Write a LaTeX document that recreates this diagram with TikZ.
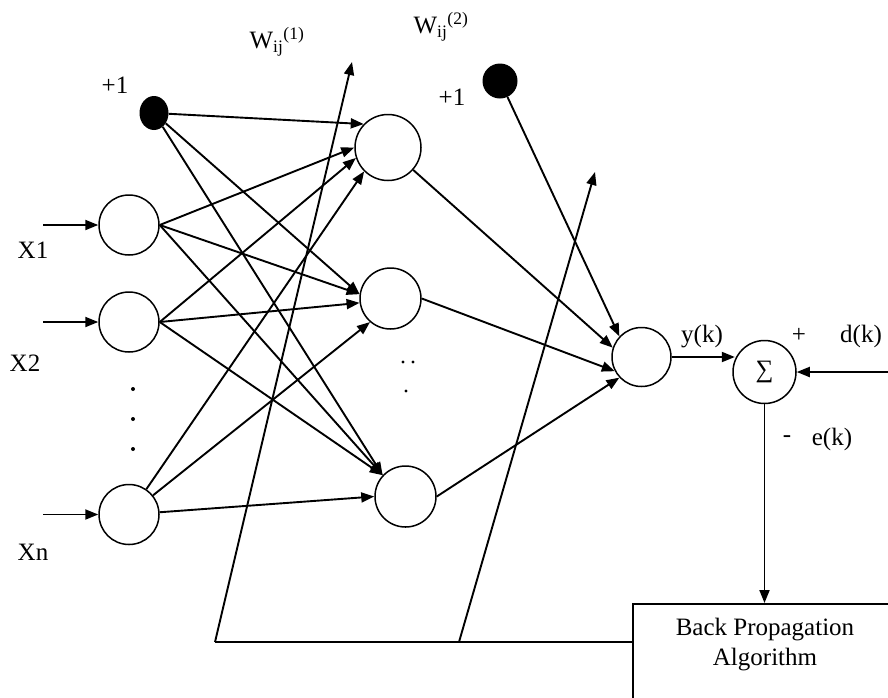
\documentclass[tikz,border=0pt]{standalone}
\usepackage{fontspec}
\setmainfont{Liberation Serif}
\usetikzlibrary{arrows.meta,shapes.geometric}
\begin{document}
\begin{tikzpicture}[x=1pt,y=-1pt,
  neuron/.style={circle,draw,line width=1.5pt,inner sep=0pt,minimum size=#1},
  biasdot/.style={circle,fill=black,inner sep=0pt,minimum size=#1},
  conn/.style={line width=1.9pt,-{Triangle[length=13pt,width=10pt]}},
  plainline/.style={line width=1.9pt},
  lbl/.style={font=\fontsize{25}{30}\selectfont,inner sep=0pt}]
\useasboundingbox (0,0) rectangle (888,697);
\clip (0,0) rectangle (888,697);
% input layer
\node[neuron=60pt] (I1) at (129,225) {};
\node[neuron=60pt] (I2) at (129,322) {};
\node[neuron=60pt] (In) at (129,514.5) {};
\node[ellipse,fill=black,inner sep=0pt,minimum width=29pt,minimum height=34pt] (B1) at (154,113) {};
% hidden layer
\node[neuron=66pt] (H1) at (388,147.5) {};
\node[neuron=61pt] (H2) at (390.5,298.5) {};
\node[neuron=61pt] (H3) at (405.5,496.5) {};
\node[biasdot=35pt] (B2) at (500,81) {};
% output
\node[neuron=59pt] (O) at (641.5,357) {};
\node[neuron=63pt,font=\fontsize{25}{30}\selectfont] (S) at (764.5,372) {∑};
% back propagation box
\node[draw,line width=1.5pt,anchor=north west,minimum width=300pt,minimum height=120pt] (BP) at (632,603) {};
\node[lbl,align=center] (BPT) at (765,645) {Back Propagation\\Algorithm};
% input arrows
\coordinate (x1s) at (43,225);
\coordinate (x2s) at (43,322);
\coordinate (xns) at (43,514.5);
\draw[conn] (x1s) -- (I1);
\draw[conn] (x2s) -- (I2);
\draw[conn] (xns) -- (In);
% input -> hidden
\draw[conn] (B1) -- (H1.136);
\draw[conn] (B1) -- (H2.172);
\draw[conn] (B1) -- (H3.137);
\draw[conn] (I1.east) -- (H1.180);
\draw[conn] (I1.east) -- (H2.172);
\draw[conn] (I1.east) -- (H3.137);
\draw[conn] (I2.east) -- (H1.198);
\draw[conn] (I2.east) -- (H2.188);
\draw[conn] (I2.east) -- (H3.137);
\draw[conn] (In) -- (H1.225);
\draw[conn] (In) -- (H2.229);
\draw[conn] (In) -- (H3.180);
% hidden -> output
\draw[conn] (H1) -- (O.162);
\draw[conn] (H2.east) -- (O.208);
\draw[conn] (H3.east) -- (O.223);
\draw[conn] (B2) -- (O.137);
% output -> sum
\draw[conn] (O.east) -- (O.east -| S.157);
\coordinate (dk) at (888,372);
\draw[conn] (dk) -- (S);
\draw[conn] (S) -- (S |- BP.north);
% feedback lines
\coordinate (f1) at (215,642);
\coordinate (t1) at (352,62);
\coordinate (f2) at (459,642);
\coordinate (t2) at (595,172);
\draw[plainline] (f1) -- (f1 -| BP.west);
\draw[conn] (f1) -- (t1);
\draw[conn] (f2) -- (t2);
% dots
\fill (133,389) circle (2pt);
\fill (133,419) circle (2pt);
\fill (133,449) circle (2pt);
\fill (403,362) circle (1.7pt);
\fill (413,362) circle (1.7pt);
\fill (406,391) circle (1.7pt);
% labels
\node[lbl] (lx1) at (33,250) {X1};
\node[lbl] (lx2) at (25,363) {X2};
\node[lbl] (lxn) at (33,552) {Xn};
\node[lbl] (lb1) at (115,85) {+1};
\node[lbl] (lb2) at (452,97) {+1};
\node[lbl] (lw1) at (277,42) {W\textsubscript{ij}\textsuperscript{(1)}};
\node[lbl] (lw2) at (441,27) {W\textsubscript{ij}\textsuperscript{(2)}};
\node[lbl] (ly) at (702,337) {y(k)};
\node[lbl] (lp) at (799,335) {+};
\node[lbl] (ld) at (861,336) {d(k)};
\node[lbl] (lm) at (787,439) {-};
\node[lbl] (le) at (832,439) {e(k)};
\end{tikzpicture}
\end{document}
